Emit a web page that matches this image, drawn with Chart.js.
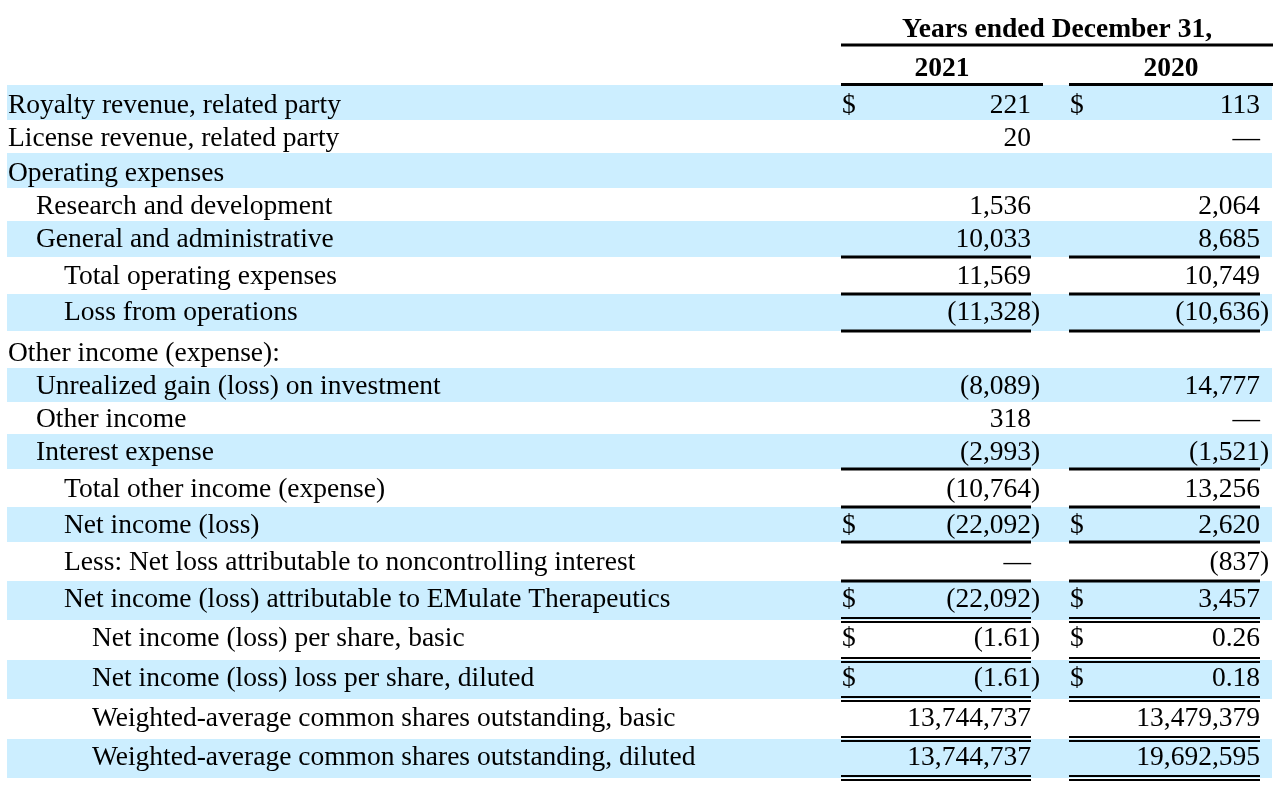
<!DOCTYPE html>
<html>
<head>
<meta charset="utf-8">
<script src="https://cdn.jsdelivr.net/npm/chart.js@4.4.1/dist/chart.umd.min.js"></script>
<style>
  html, body { margin: 0; padding: 0; background: #ffffff; }
  #wrap { width: 1280px; height: 792px; }
</style>
</head>
<body>
<div id="wrap"><canvas id="incomeTable" width="1280" height="792"></canvas></div>
<script>
// Dados da tabela (valores em milhares, exceto por ação e nº de ações)
const headerTitle = 'Years ended December 31,';
const yearLabels = ['2021', '2020'];

const rowLabels = [
  'Royalty revenue, related party',
  'License revenue, related party',
  'Operating expenses',
  'Research and development',
  'General and administrative',
  'Total operating expenses',
  'Loss from operations',
  'Other income (expense):',
  'Unrealized gain (loss) on investment',
  'Other income',
  'Interest expense',
  'Total other income (expense)',
  'Net income (loss)',
  'Less: Net loss attributable to noncontrolling interest',
  'Net income (loss) attributable to EMulate Therapeutics',
  'Net income (loss) per share, basic',
  'Net income (loss) loss per share, diluted',
  'Weighted-average common shares outstanding, basic',
  'Weighted-average common shares outstanding, diluted'
];

const values2021 = [221, 20, null, 1536, 10033, 11569, -11328, null, -8089, 318, -2993,
  -10764, -22092, 0, -22092, -1.61, -1.61, 13744737, 13744737];
const values2020 = [113, 0, null, 2064, 8685, 10749, -10636, null, 14777, 0, -1521,
  13256, 2620, -837, 3457, 0.26, 0.18, 13479379, 19692595];

// linhas com cifrão
const dollarRows = [0, 12, 14, 15, 16];
// sublinhado: 0 nenhum, 1 simples, 2 duplo
const underlineType = [0, 0, 0, 0, 1, 1, 1, 0, 0, 0, 1, 1, 1, 1, 2, 2, 2, 2, 2];
// nível de recuo do rótulo
const indentLevel = [0, 0, 0, 1, 1, 2, 2, 0, 1, 1, 1, 2, 2, 2, 2, 3, 3, 3, 3];

// Layout (em unidades das escalas, que cobrem a página inteira)
const BAND_EDGES = [85, 120, 153, 188, 221, 257, 294, 331, 368, 402, 434, 469, 507, 542, 581, 620, 660, 699, 739, 778];
const TEXT_BASE = [113, 146, 181, 214, 247, 284, 320, 361, 394, 427, 460, 497, 533, 570, 607, 646, 686, 726, 765];
const DOLLAR_X = [842, 1070];
const VALUE_RIGHT = [1031, 1260];
const VALUE_LINE = [[841, 1031], [1069, 1260]];
const YEAR_LINE = [[841, 1043], [1069, 1273]];
const BAND_X = [7, 1272];
const FONT = '27.5px "Liberation Serif", "Times New Roman", serif';
const FONT_BOLD = 'bold 27.5px "Liberation Serif", "Times New Roman", serif';

function formatValue(v) {
  if (v === null) return '';
  if (v === 0) return '\u2014';
  const abs = Math.abs(v);
  const s = Number.isInteger(abs) ? abs.toLocaleString('en-US') : abs.toFixed(2);
  return v < 0 ? '(' + s : s;
}

const tablePlugin = {
  id: 'tableDraw',
  beforeDatasetsDraw(chart) {
    const ctx = chart.ctx;
    const sx = chart.scales.x, sy = chart.scales.y;
    const px = v => sx.getPixelForValue(v);
    const py = v => sy.getPixelForValue(v);

    ctx.save();

    // faixas azuis
    ctx.fillStyle = '#cceeff';
    rowLabels.forEach((_, i) => {
      if (i % 2 !== 0) return;
      const top = py(BAND_EDGES[i]), bottom = py(BAND_EDGES[i + 1]);
      ctx.fillRect(px(BAND_X[0]), top, px(BAND_X[1]) - px(BAND_X[0]), bottom - top);
    });

    // cabeçalho
    ctx.fillStyle = '#000';
    ctx.font = FONT_BOLD;
    ctx.textAlign = 'center';
    ctx.textBaseline = 'alphabetic';
    ctx.fillText(headerTitle, px((YEAR_LINE[0][0] + YEAR_LINE[1][1]) / 2), py(37));
    yearLabels.forEach((yr, c) => {
      ctx.fillText(yr, px((YEAR_LINE[c][0] + YEAR_LINE[c][1]) / 2), py(76));
    });

    ctx.strokeStyle = '#000';
    ctx.lineWidth = 3;
    ctx.beginPath();
    ctx.moveTo(px(YEAR_LINE[0][0]), py(45));
    ctx.lineTo(px(YEAR_LINE[1][1]), py(45));
    YEAR_LINE.forEach(([a, b]) => {
      ctx.moveTo(px(a), py(84.5));
      ctx.lineTo(px(b), py(84.5));
    });
    ctx.stroke();

    // sublinhados
    underlineType.forEach((t, i) => {
      if (!t) return;
      const yb = BAND_EDGES[i + 1];
      VALUE_LINE.forEach(([a, b]) => {
        ctx.beginPath();
        if (t === 1) {
          ctx.lineWidth = 3;
          ctx.moveTo(px(a), py(yb));
          ctx.lineTo(px(b), py(yb));
        } else {
          ctx.lineWidth = 2;
          ctx.moveTo(px(a), py(yb - 2));
          ctx.lineTo(px(b), py(yb - 2));
          ctx.moveTo(px(a), py(yb + 2));
          ctx.lineTo(px(b), py(yb + 2));
        }
        ctx.stroke();
      });
    });

    // rótulos
    ctx.font = FONT;
    ctx.textAlign = 'left';
    rowLabels.forEach((label, i) => {
      ctx.fillText(label, px(8 + indentLevel[i] * 28), py(TEXT_BASE[i]));
    });

    // valores
    [values2021, values2020].forEach((vals, c) => {
      vals.forEach((v, i) => {
        const yb = py(TEXT_BASE[i]);
        if (dollarRows.includes(i)) {
          ctx.textAlign = 'left';
          ctx.fillText('$', px(DOLLAR_X[c]), yb);
        }
        const s = formatValue(v);
        if (!s) return;
        ctx.textAlign = 'right';
        ctx.fillText(s, px(VALUE_RIGHT[c]), yb);
        if (v < 0) {
          ctx.textAlign = 'left';
          ctx.fillText(')', px(VALUE_RIGHT[c]), yb);
        }
      });
    });

    ctx.restore();
  }
};

new Chart(document.getElementById('incomeTable').getContext('2d'), {
  type: 'scatter',
  data: { datasets: [{ data: [], pointRadius: 0 }] },
  options: {
    responsive: false,
    animation: false,
    layout: { padding: 0 },
    plugins: { legend: { display: false }, tooltip: { enabled: false } },
    scales: {
      x: { type: 'linear', min: 0, max: 1280, display: false },
      y: { type: 'linear', min: 0, max: 792, reverse: true, display: false }
    }
  },
  plugins: [tablePlugin]
});
</script>
</body>
</html>
